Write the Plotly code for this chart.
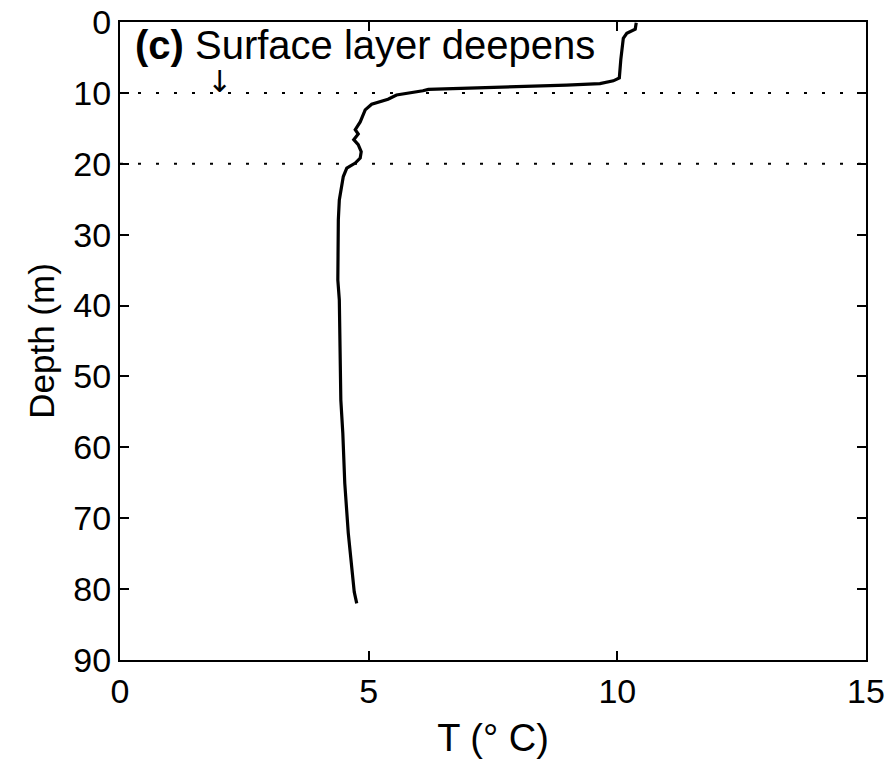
import plotly.graph_objects as go

# Temperature profile
temp_c = [10.38, 10.36, 10.19, 10.12, 10.07, 10.04, 9.92, 9.65, 8.98, 8.18, 7.44, 6.84,
          6.20, 6.09, 5.56, 5.39, 5.06, 4.93, 4.83, 4.73, 4.79, 4.70, 4.79, 4.85, 4.83,
          4.73, 4.56, 4.49, 4.44, 4.41, 4.39, 4.39, 4.38, 4.41, 4.42, 4.44, 4.48, 4.52,
          4.59, 4.66, 4.71, 4.76]
depth_m = [0.1, 1.0, 1.6, 2.3, 5.3, 7.9, 8.3, 8.7, 8.9, 9.1, 9.2, 9.35,
           9.5, 9.7, 10.3, 10.9, 11.6, 12.4, 14.1, 15.2, 15.8, 16.6, 17.3, 18.3, 19.2,
           19.9, 20.6, 21.8, 23.7, 25.1, 27.9, 29.8, 36.4, 39.2, 48.6, 53.3, 58.0, 65.1,
           72.1, 76.8, 80.4, 82.0]

ref_depths = [10, 20]
x_limits = [0, 15]
y_limits = [90, 0]
x_ticks = [0, 5, 10, 15]
y_ticks = [0, 10, 20, 30, 40, 50, 60, 70, 80, 90]

label_x, label_depth = 0.26, 3.3
arrow_x, arrow_depth = 2.0, 8.4

FONT = "Liberation Sans, Arial, sans-serif"

fig = go.Figure()
for d in ref_depths:
    fig.add_trace(go.Scatter(x=x_limits, y=[d, d], mode="lines",
                             line=dict(color="black", width=2, dash="3px,15px"),
                             hoverinfo="skip", showlegend=False))
fig.add_trace(go.Scatter(x=temp_c, y=depth_m, mode="lines",
                         line=dict(color="black", width=3.2), showlegend=False))

fig.add_annotation(x=label_x, y=label_depth, xref="x", yref="y",
                   text="<b>(c)</b> Surface layer deepens", showarrow=False,
                   xanchor="left", yanchor="middle",
                   font=dict(family=FONT, size=40, color="black"))
fig.add_annotation(x=arrow_x, y=arrow_depth, xref="x", yref="y",
                   text="↓", showarrow=False, xanchor="center", yanchor="middle",
                   font=dict(family="DejaVu Sans", size=30, color="black"))

axis_common = dict(showgrid=False, zeroline=False, showline=True, linecolor="black",
                   linewidth=2, mirror="ticks", ticks="inside", ticklen=9,
                   tickwidth=1.5, tickcolor="black", automargin=False,
                   ticklabeloverflow="allow",
                   tickfont=dict(family=FONT, size=34, color="black"))

fig.update_xaxes(range=x_limits, tickvals=x_ticks,
                 title=dict(text="T (° C)", font=dict(family=FONT, size=38, color="black"), standoff=16),
                 **axis_common)
fig.update_yaxes(range=y_limits, tickvals=y_ticks,
                 title=dict(text="Depth (m)", font=dict(family=FONT, size=35, color="black"), standoff=8),
                 **axis_common)

fig.update_layout(width=885, height=757, plot_bgcolor="white", paper_bgcolor="white",
                  margin=dict(l=112, r=27, t=14, b=105), showlegend=False)

fig.write_html("out.html")
